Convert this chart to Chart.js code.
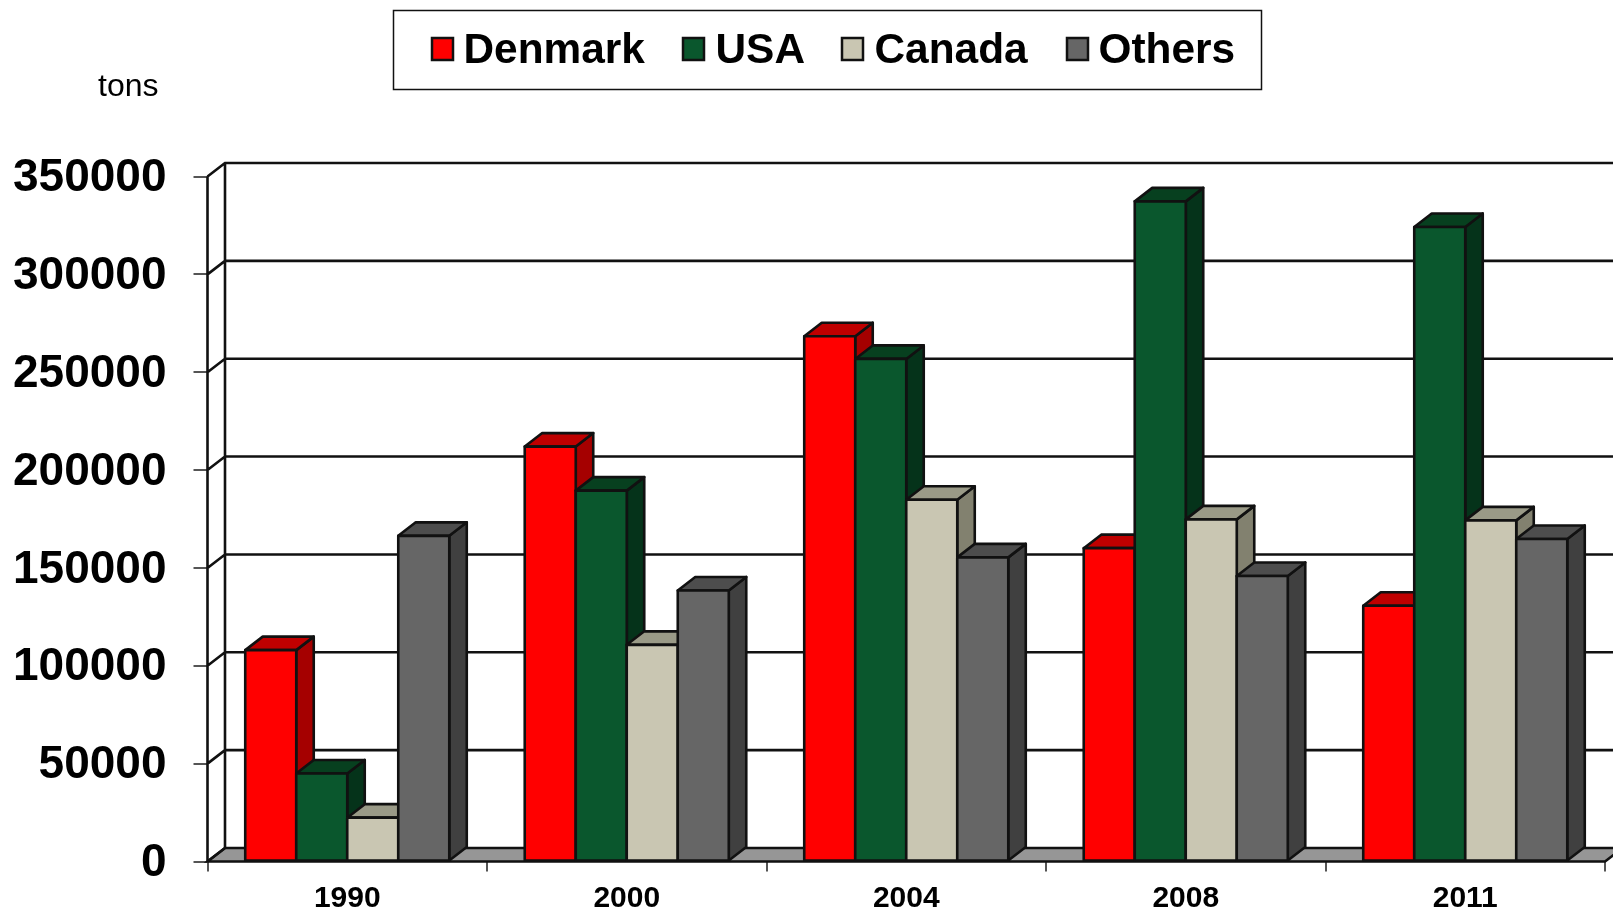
<!DOCTYPE html>
<html>
<head>
<meta charset="utf-8">
<style>html,body{margin:0;padding:0;background:#fff;overflow:hidden}canvas{display:block}</style>
<script src="https://cdn.jsdelivr.net/npm/chart.js@4/dist/chart.umd.min.js"></script>
</head>
<body>
<canvas id="c" width="1613" height="911"></canvas>
<script>
const categories = ['1990', '2000', '2004', '2008', '2011'];
const denmark = [108000, 212000, 268400, 160100, 130700];
const usa = [45000, 189500, 256800, 337300, 324200];
const canada = [22400, 110700, 184800, 174800, 174300];
const others = [166400, 138500, 155400, 145900, 164800];
const seriesNames = ['Denmark', 'USA', 'Canada', 'Others'];
const frontColors = ['#ff0000', '#0a572d', '#c9c6b2', '#666666'];
const sideColors = ['#a50000', '#05331a', '#82816f', '#404040'];
const topColors = ['#bf0000', '#07401f', '#9a9a87', '#4d4d4d'];
const yMax = 350000, yStep = 50000;
const unitLabel = 'tons';

const FONT = '"Liberation Sans", Arial, sans-serif';
const DX = 17.5, DY = 13.5;
const LINE = 2.6;
const legendBox = {l: 393.5, t: 10.5, r: 1261.5, b: 89.5};
const legendSwatchX = [431, 682, 841, 1066];
const legendTextX = [463.5, 715.5, 874.5, 1098.5];

const threeD = {
  id: 'threeD',
  beforeDatasetsDraw(chart) {
    const {ctx, chartArea: a, scales: {y}} = chart;
    ctx.save();
    // floor
    ctx.beginPath();
    ctx.moveTo(a.left, a.bottom);
    ctx.lineTo(a.left + DX, a.bottom - DY);
    ctx.lineTo(a.right + DX, a.bottom - DY);
    ctx.lineTo(a.right, a.bottom);
    ctx.closePath();
    ctx.fillStyle = '#969696';
    ctx.fill();
    ctx.strokeStyle = '#111';
    ctx.lineWidth = LINE;
    ctx.stroke();
    // side wall and back wall lines
    ctx.beginPath();
    ctx.moveTo(a.left + DX, a.top - DY);
    ctx.lineTo(a.left + DX, a.bottom - DY);
    ctx.moveTo(a.left, a.top);
    ctx.lineTo(a.left, a.bottom);
    y.ticks.forEach((t, i) => {
      const py = y.getPixelForTick(i);
      ctx.moveTo(a.left, py);
      ctx.lineTo(a.left + DX, py - DY);
      if (t.value !== 0) ctx.lineTo(a.right + DX, py - DY);
    });
    ctx.stroke();
    ctx.restore();
  },
  beforeDatasetDraw() { return false; },
  afterDatasetsDraw(chart) {
    const {ctx} = chart;
    chart.data.datasets.forEach((ds, i) => {
      const meta = chart.getDatasetMeta(i);
      meta.data.forEach(el => {
        const {x, y, base, width} = el.getProps(['x', 'y', 'base', 'width'], true);
        const l = x - width / 2, r = x + width / 2;
        ctx.save();
        ctx.strokeStyle = '#111';
        ctx.lineWidth = LINE;
        ctx.lineJoin = 'round';
        ctx.beginPath();
        ctx.moveTo(r, y); ctx.lineTo(r + DX, y - DY);
        ctx.lineTo(r + DX, base - DY); ctx.lineTo(r, base);
        ctx.closePath();
        ctx.fillStyle = sideColors[i];
        ctx.fill(); ctx.stroke();
        ctx.beginPath();
        ctx.moveTo(l, y); ctx.lineTo(l + DX, y - DY);
        ctx.lineTo(r + DX, y - DY); ctx.lineTo(r, y);
        ctx.closePath();
        ctx.fillStyle = topColors[i];
        ctx.fill(); ctx.stroke();
        el.draw(ctx, chart.chartArea);
        ctx.strokeRect(l, y, width, base - y);
        ctx.restore();
      });
    });
  },
  afterDraw(chart) {
    const {ctx} = chart;
    ctx.save();
    // unit label
    ctx.fillStyle = '#000';
    ctx.textAlign = 'left';
    ctx.textBaseline = 'alphabetic';
    ctx.font = '32px ' + FONT;
    ctx.fillText(unitLabel, 98, 96);
    // legend
    ctx.strokeStyle = '#111';
    ctx.lineWidth = 1.5;
    ctx.strokeRect(legendBox.l, legendBox.t, legendBox.r - legendBox.l, legendBox.b - legendBox.t);
    ctx.font = 'bold 42.4px ' + FONT;
    seriesNames.forEach((name, i) => {
      ctx.fillStyle = frontColors[i];
      ctx.fillRect(legendSwatchX[i] + 1, 38, 21, 22);
      ctx.strokeStyle = '#111';
      ctx.lineWidth = 2.5;
      ctx.strokeRect(legendSwatchX[i] + 1, 38, 21, 22);
      ctx.fillStyle = '#000';
      ctx.fillText(name, legendTextX[i], 63);
    });
    ctx.restore();
  }
};

const seriesValues = [denmark, usa, canada, others];
new Chart(document.getElementById('c'), {
  type: 'bar',
  data: {
    labels: categories,
    datasets: seriesNames.map((name, i) => ({
      label: name,
      data: seriesValues[i],
      backgroundColor: frontColors[i],
      borderWidth: 0,
      barPercentage: 1,
      categoryPercentage: 0.73
    }))
  },
  options: {
    responsive: false,
    animation: false,
    devicePixelRatio: 1,
    layout: {padding: {top: 176.5, right: 8, left: 0, bottom: 0}},
    plugins: {legend: {display: false}, title: {display: false}, tooltip: {enabled: false}},
    scales: {
      x: {
        afterFit(s) { s.height = 49.5; s.paddingLeft = 0; s.paddingRight = 0; },
        grid: {drawOnChartArea: false, drawTicks: true, tickLength: 10, color: '#555', lineWidth: 2, offset: true},
        border: {display: false},
        ticks: {color: '#000', padding: 9, maxRotation: 0, autoSkip: false, font: {family: FONT, weight: 'bold', size: 30}}
      },
      y: {
        min: 0,
        max: yMax,
        afterFit(s) { s.width = 207.5; s.paddingTop = 0; s.paddingBottom = 0; },
        grid: {drawOnChartArea: false, drawTicks: true, tickLength: 14, color: '#555', lineWidth: 2},
        border: {display: false},
        ticks: {stepSize: yStep, color: '#000', padding: 27, labelOffset: 2, font: {family: FONT, weight: 'bold', size: 46}, callback: v => String(v)}
      }
    }
  },
  plugins: [threeD]
});
</script>
</body>
</html>
